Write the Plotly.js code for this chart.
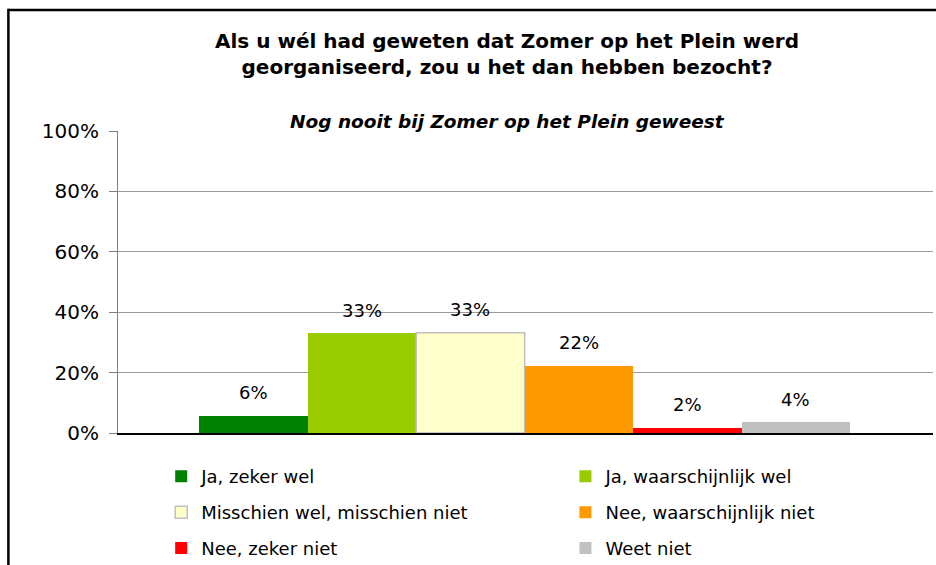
<!DOCTYPE html>
<html>
<head>
<meta charset="utf-8">
<script src="https://cdn.plot.ly/plotly-3.0.1.min.js"></script>
<style>
html, body { margin: 0; padding: 0; background: #ffffff; }
#chart { width: 936px; height: 565px; }
</style>
</head>
<body>
<div id="chart"></div>
<script>
// ---- data ----
const categories = [
  'Ja, zeker wel',
  'Ja, waarschijnlijk wel',
  'Misschien wel, misschien niet',
  'Nee, waarschijnlijk niet',
  'Nee, zeker niet',
  'Weet niet'
];
const values = [5.7, 33.0, 33.2, 22.3, 1.8, 3.5];
const valueLabels = ['6%', '33%', '33%', '22%', '2%', '4%'];
const yTickValues = [0, 20, 40, 60, 80, 100];
const yTickLabels = ['0%', '20%', '40%', '60%', '80%', '100%'];
const titleText = 'Als u wél had geweten dat Zomer op het Plein werd<br>georganiseerd, zou u het dan hebben bezocht?';
const subtitleText = 'Nog nooit bij Zomer op het Plein geweest';

// ---- styles ----
const colors = ['#008000', '#99CC00', '#FFFFCC', '#FF9900', '#FF0000', '#C0C0C0'];
const outlineColors = ['#008000', '#99CC00', '#C0C0C0', '#FF9900', '#FF0000', '#C0C0C0'];
const outlineWidths = [0, 0, 1.5, 0, 0, 0];
const legendColumns = ['legend', 'legend2', 'legend', 'legend2', 'legend', 'legend2'];
const FONT = 'DejaVu Sans, Liberation Sans, Arial, sans-serif';

const traces = categories.map((c, i) => ({
  type: 'bar',
  x: [c],
  y: [values[i]],
  name: c,
  width: 1,
  marker: { color: colors[i], line: { color: outlineColors[i], width: outlineWidths[i] } },
  legend: legendColumns[i],
  legendgroup: 'g' + i,
  hoverinfo: 'none'
}));

const labelAnnotations = categories.map((c, i) => ({
  x: c,
  y: values[i],
  xref: 'x',
  yref: 'y',
  text: valueLabels[i],
  showarrow: false,
  yshift: 23,
  yanchor: 'middle',
  xanchor: 'center',
  font: { family: FONT, size: 18, color: '#000000' }
}));

const legendCommon = {
  orientation: 'v',
  xanchor: 'left',
  yanchor: 'top',
  tracegroupgap: 9.5,
  bgcolor: 'rgba(0,0,0,0)',
  font: { family: FONT, size: 18, color: '#000000' },
  itemwidth: 30
};

const layout = {
  width: 936,
  height: 565,
  paper_bgcolor: '#ffffff',
  plot_bgcolor: '#ffffff',
  margin: { l: 118, r: 3, t: 131, b: 132, autoexpand: false },
  barmode: 'overlay',
  bargap: 0,
  title: {
    text: titleText,
    x: 0.5417,
    xref: 'container',
    xanchor: 'center',
    y: 0.915,
    yref: 'container',
    yanchor: 'top',
    font: { family: FONT, size: 20, weight: 'bold', color: '#000000' }
  },
  xaxis: {
    type: 'category',
    categoryorder: 'array',
    categoryarray: categories,
    range: [-1.25, 6.265],
    showticklabels: false,
    ticks: '',
    showgrid: false,
    zeroline: false,
    showline: true,
    linecolor: '#000000',
    linewidth: 1.5,
    fixedrange: true
  },
  yaxis: {
    range: [0, 100],
    tickvals: yTickValues,
    ticktext: yTickLabels,
    ticks: 'outside',
    ticklen: 8,
    tickcolor: '#808080',
    tickwidth: 1,
    ticklabelstandoff: 6,
    showline: true,
    linecolor: '#808080',
    linewidth: 1,
    showgrid: true,
    gridcolor: '#9a9a9a',
    gridwidth: 1,
    zeroline: false,
    tickfont: { family: FONT, size: 20, color: '#000000' },
    fixedrange: true
  },
  legend: Object.assign({}, legendCommon, { x: 0.053, y: -0.083 }),
  legend2: Object.assign({}, legendCommon, { x: 0.549, y: -0.083 }),
  annotations: labelAnnotations.concat([{
    x: 0.478,
    y: 1.033,
    xref: 'paper',
    yref: 'paper',
    text: '<i>' + subtitleText + '</i>',
    showarrow: false,
    xanchor: 'center',
    yanchor: 'middle',
    font: { family: FONT, size: 18.5, weight: 'bold', color: '#000000' }
  }]),
  shapes: [
    { type: 'line', xref: 'paper', yref: 'paper', x0: -0.1345, x1: 1.01, y0: 1.401, y1: 1.401,
      line: { color: '#000000', width: 2.5 } },
    { type: 'line', xref: 'paper', yref: 'paper', x0: -0.1345, x1: -0.1345, y0: 1.405, y1: -0.47,
      line: { color: '#000000', width: 2.5 } }
  ]
};

Plotly.newPlot('chart', traces, layout, { displayModeBar: false, staticPlot: true });
</script>
</body>
</html>
